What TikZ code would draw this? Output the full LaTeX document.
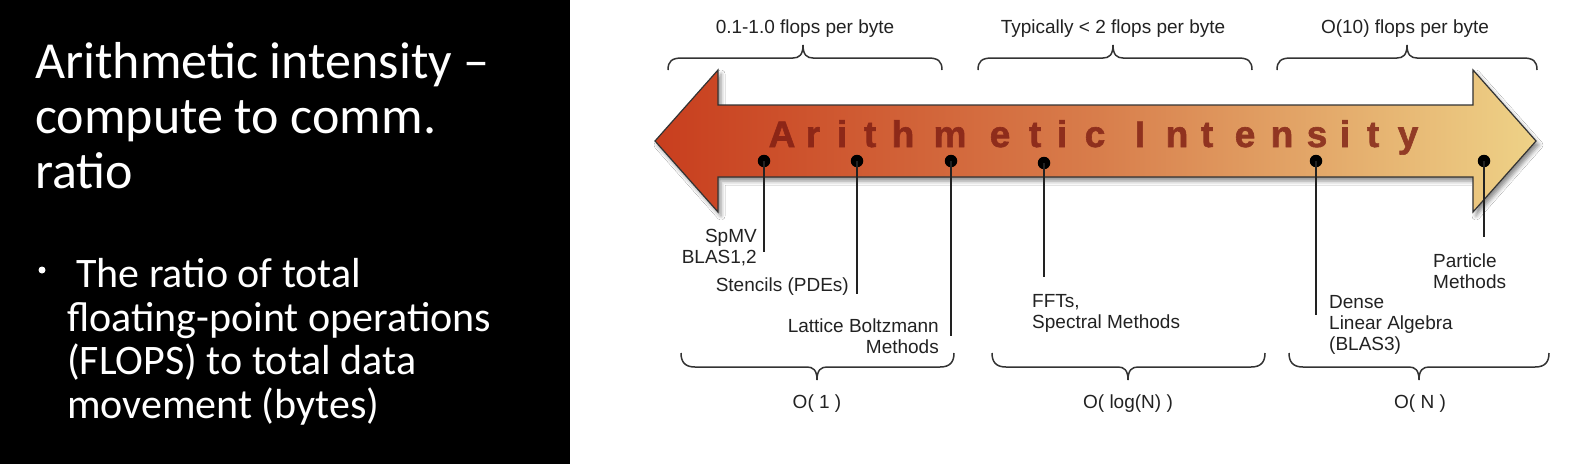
\documentclass[tikz,border=0pt]{standalone}
\usepackage{fontspec}
\setmainfont{Liberation Sans}
\newfontfamily\calfont{Carlito}
\newfontfamily\heavyfont{Liberation Sans Bold}[FakeBold=1.6]
\usetikzlibrary{shadows.blur}
\definecolor{arrL}{RGB}{200,62,30}
\definecolor{arrM}{RGB}{216,125,75}
\definecolor{arrR}{RGB}{238,210,135}
\definecolor{aired}{RGB}{125,28,18}
\definecolor{txt}{RGB}{34,34,34}
\definecolor{brc}{RGB}{51,51,51}
\newcommand\bracetop[3]{%
  \draw[bracestyle] ({#1},70) .. controls ({#1},61) and ({#1+4},58) .. ({#1+14},58)
    -- ({#2-10},58) .. controls ({#2-4},58) and ({#2},55) .. ({#2},45)
    .. controls ({#2},55) and ({#2+4},58) .. ({#2+10},58)
    -- ({#3-14},58) .. controls ({#3-4},58) and ({#3},61) .. ({#3},70);}
\newcommand\bracebot[3]{%
  \draw[bracestyle] ({#1},353) .. controls ({#1},362) and ({#1+4},367) .. ({#1+14},367)
    -- ({#2-10},367) .. controls ({#2-4},367) and ({#2},370) .. ({#2},380)
    .. controls ({#2},370) and ({#2+4},367) .. ({#2+10},367)
    -- ({#3-14},367) .. controls ({#3-4},367) and ({#3},362) .. ({#3},353);}
\begin{document}
\begin{tikzpicture}[x=1pt,y=-1pt,
  bracestyle/.style={draw=brc,line width=1.5pt},
  lbl/.style={inner sep=0pt,text=txt,font=\fontsize{19}{21}\selectfont},
  dotnode/.style={circle,fill=black,inner sep=0pt,minimum size=12.5pt},
  leader/.style={draw=txt,line width=1.5pt},
  letter/.style={anchor=base,inner sep=0pt,text=aired,font=\heavyfont\fontsize{37}{37}\selectfont}]
\useasboundingbox (0,0) rectangle (1574,464);
\fill[black] (0,0) rectangle (570,464);
\fill[white] (570,0) rectangle (1574,464);
% left panel (anchor = baseline of last line)
\node[anchor=base west,align=left,inner sep=0pt,text=white,font=\calfont\fontsize{52}{55}\selectfont] (title) at (35,188)
  {Arithmetic intensity –\\compute to comm.\\ratio};
\node[circle,fill=white,inner sep=0pt,minimum size=7pt] (bul) at (42,270) {};
\node[anchor=base west,align=left,inner sep=0pt,text=white,font=\calfont\fontsize{42}{43.5}\selectfont] (body) at (67,418)
  {\hspace*{9pt}The ratio of total\\floating-point operations\\(FLOPS) to total data\\movement (bytes)};
% arrow
\path[blur shadow={shadow xshift=3pt,shadow yshift=-4pt,shadow blur radius=4pt,shadow opacity=45},
  left color=arrL,right color=arrR,middle color=arrM,draw=black!80,line width=1.2pt,line join=miter]
  (655,141) -- (718,70) -- (718,105) -- (1473,105) -- (1473,70) -- (1536,141)
  -- (1473,212) -- (1473,177) -- (718,177) -- (718,212) -- cycle;
\begin{scope}[transparency group,opacity=0.8]
\foreach \ch/\xx [count=\i] in {A/782,r/813,i/842,t/870,h/903,m/950,e/1000,t/1035,i/1062,c/1095,I/1140,n/1177,t/1207,e/1245,n/1282,s/1317,i/1345,t/1373,y/1408}
  \node[letter] (L\i) at (\xx,147) {\ch};
\end{scope}
% braces top
\bracetop{668}{803}{942}
\bracetop{978}{1113}{1252}
\bracetop{1277}{1407}{1537}
\node[lbl,anchor=base] (t1) at (805,33) {0.1-1.0 flops per byte};
\node[lbl,anchor=base] (t2) at (1113,33) {Typically < 2 flops per byte};
\node[lbl,anchor=base] (t3) at (1405,33) {O(10) flops per byte};
% braces bottom
\bracebot{681}{817}{954}
\bracebot{992}{1128}{1265}
\bracebot{1289}{1419}{1549}
\node[lbl,anchor=base] (b1) at (817,408) {O( 1 )};
\node[lbl,anchor=base] (b2) at (1128,408) {O( log(N) )};
\node[lbl,anchor=base] (b3) at (1420,408) {O( N )};
% dots and leaders
\node[dotnode] (d1) at (764,161) {};
\node[dotnode] (d2) at (857,161) {};
\node[dotnode] (d3) at (951,161) {};
\node[dotnode] (d4) at (1044,163) {};
\node[dotnode] (d5) at (1316,161) {};
\node[dotnode] (d6) at (1484,161) {};
\coordinate (e1) at (764,252);
\coordinate (e2) at (857,294);
\coordinate (e3) at (951,336);
\coordinate (e4) at (1044,277);
\coordinate (e5) at (1316,315);
\coordinate (e6) at (1484,237);
\foreach \i in {1,...,6} \draw[leader] (d\i.center) -- (e\i);
% labels (anchor = baseline of last line)
\node[lbl,anchor=base east,align=right] (l1) at (757,263) {SpMV\\BLAS1,2};
\node[lbl,anchor=base east] (l2) at (849,291) {Stencils (PDEs)};
\node[lbl,anchor=base east,align=right] (l3) at (939,353) {Lattice Boltzmann\\Methods};
\node[lbl,anchor=base west,align=left] (l4) at (1032,328) {FFTs,\\Spectral Methods};
\node[lbl,anchor=base west,align=left] (l5) at (1329,350) {Dense\\Linear Algebra\\(BLAS3)};
\node[lbl,anchor=base west,align=left] (l6) at (1433,288) {Particle\\Methods};
\end{tikzpicture}
\end{document}
